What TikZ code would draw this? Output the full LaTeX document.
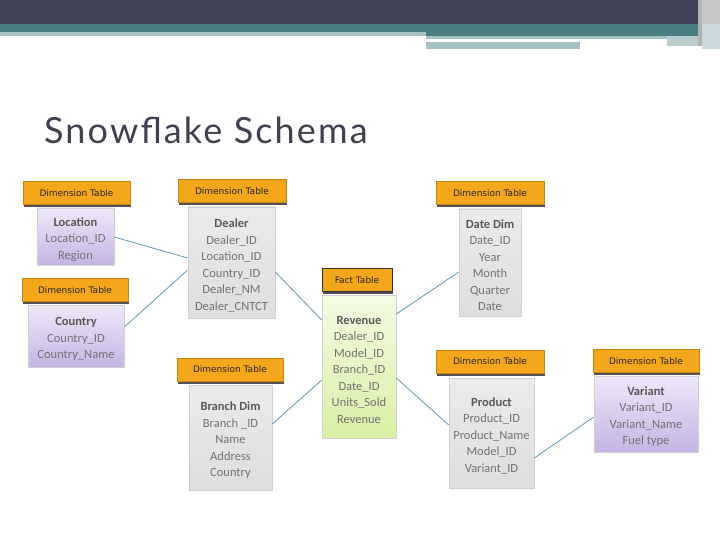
\documentclass[tikz,border=0pt]{standalone}
\usepackage{fontspec}
\setmainfont{Carlito}
\newfontfamily\headfont{DejaVu Sans}
\newfontfamily\titlefont[LetterSpace=6]{Lato}
\usetikzlibrary{shadows}
\definecolor{bandgray}{HTML}{414255}
\definecolor{bandteal}{HTML}{487F83}
\definecolor{bandlight}{HTML}{A7C0C3}
\definecolor{titlegray}{HTML}{3F4050}
\definecolor{headorange}{HTML}{F4A71B}
\definecolor{bodytext}{HTML}{737373}
\definecolor{linkblue}{HTML}{6096B6}
\tikzset{
  dimhead/.style={rectangle, fill=headorange, draw=headorange!80!black, line width=0.4pt,
    minimum height=23, inner sep=0pt, text=black!85,
    font=\headfont\fontsize{9}{10}\selectfont,
    drop shadow={shadow xshift=0.6pt, shadow yshift=-2.6pt, fill=black!75, opacity=0.9}},
  facthead/.style={dimhead, draw=black!80, line width=1pt},
  tablebody/.style={rectangle, draw=black!18, line width=0.6pt, align=center,
    inner sep=0pt, text=bodytext, font=\fontsize{12.5}{16.5}\selectfont,
    drop shadow={shadow xshift=1pt, shadow yshift=-1pt, fill=black!12, opacity=1}},
  dimbody/.style={tablebody, top color=black!8, bottom color=black!13},
  purplebody/.style={tablebody, top color={rgb,255:red,238;green,232;blue,248},
    bottom color={rgb,255:red,196;green,180;blue,228}},
  factbody/.style={tablebody, top color={rgb,255:red,244;green,251;blue,228},
    bottom color={rgb,255:red,216;green,239;blue,164}},
  link/.style={draw=linkblue, line width=0.8pt}
}
\newcommand{\hd}[1]{{\rule{0pt}{14.5pt}\bfseries\color{black!65}#1}}
\begin{document}
\begin{tikzpicture}[x=1pt, y=-1pt]
\useasboundingbox (0,0) rectangle (720,540);
\fill[white] (0,0) rectangle (720,540);
%%%%% top band
\fill[bandgray] (0,0) rectangle (720,24);
\fill[bandteal] (0,24) rectangle (720,32);
\fill[bandteal] (426,32) rectangle (698,36);
\fill[bandlight] (0,32) rectangle (426,36);
\fill[bandlight] (426,36) rectangle (667,39);
\fill[bandlight] (426,42) rectangle (580,49);
\fill[bandlight!80] (667,36) rectangle (705,46);
\fill[black!30] (698,0) rectangle (702,46);
\fill[black!22] (702,0) rectangle (720,24);
\fill[bandlight!60] (702,24) rectangle (720,49);
%%%%% title
\node[anchor=base west, inner sep=0pt, text=titlegray,
  font=\titlefont\fontsize{36}{38}\selectfont] (title) at (44,144) {Snowflake Schema};
%%%%% table bodies
\node[purplebody, minimum width=77, minimum height=57] (locbody) at (75.5,236.5)
  {\hd{Location}\\Location\_ID\\Region};
\node[purplebody, minimum width=96, minimum height=62] (countrybody) at (76,336)
  {\hd{Country}\\Country\_ID\\Country\_Name};
\node[dimbody, minimum width=87, minimum height=111] (dealbody) at (231.5,262.5)
  {\hd{Dealer}\\Dealer\_ID\\Location\_ID\\Country\_ID\\Dealer\_NM\\Dealer\_CNTCT};
\node[factbody, minimum width=74, minimum height=143] (factbody) at (359,366.5)
  {\hd{Revenue}\\Dealer\_ID\\Model\_ID\\Branch\_ID\\Date\_ID\\Units\_Sold\\Revenue};
\node[dimbody, minimum width=83, minimum height=105] (branchbody) at (230.5,437.5)
  {\hd{Branch Dim}\\Branch \_ID\\Name\\Address\\Country};
\node[dimbody, minimum width=62, minimum height=107] (datebody) at (490,262.5)
  {\hd{Date Dim}\\Date\_ID\\Year\\Month\\Quarter\\Date};
\node[dimbody, minimum width=85, minimum height=110] (prodbody) at (491.5,433)
  {\hd{Product}\\Product\_ID\\Product\_Name\\Model\_ID\\Variant\_ID};
\node[purplebody, minimum width=104, minimum height=76] (varbody) at (646,414)
  {\hd{Variant}\\Variant\_ID\\Variant\_Name\\Fuel type};
%%%%% headers
\node[dimhead, minimum width=107] (lochead) at (76.5,193) {Dimension Table};
\node[dimhead, minimum width=106] (countryhead) at (75,290) {Dimension Table};
\node[dimhead, minimum width=108] (dealhead) at (232,191) {Dimension Table};
\node[facthead, minimum width=70] (facthead) at (357,280) {Fact Table};
\node[dimhead, minimum width=106] (branchhead) at (230,369.5) {Dimension Table};
\node[dimhead, minimum width=108] (datehead) at (490,193) {Dimension Table};
\node[dimhead, minimum width=108] (prodhead) at (490,361.5) {Dimension Table};
\node[dimhead, minimum width=106] (varhead) at (646,361) {Dimension Table};
%%%%% links
\draw[link] ([yshift=-0.5pt]locbody.east) -- ([yshift=4.5pt]dealbody.west);
\draw[link] ([yshift=9pt]countrybody.east) -- ([yshift=-7.5pt]dealbody.west);
\draw[link] ([yshift=-9.5pt]dealbody.east) -- ([yshift=46.5pt]factbody.west);
\draw[link] ([yshift=13.5pt]branchbody.east) -- ([yshift=-13.5pt]factbody.west);
\draw[link] ([yshift=52.5pt]factbody.east) -- ([yshift=-9.5pt]datebody.west);
\draw[link] ([yshift=-11.5pt]factbody.east) -- ([yshift=8pt]prodbody.west);
\draw[link] ([yshift=-25pt]prodbody.east) -- ([yshift=-3pt]varbody.west);
\end{tikzpicture}
\end{document}
